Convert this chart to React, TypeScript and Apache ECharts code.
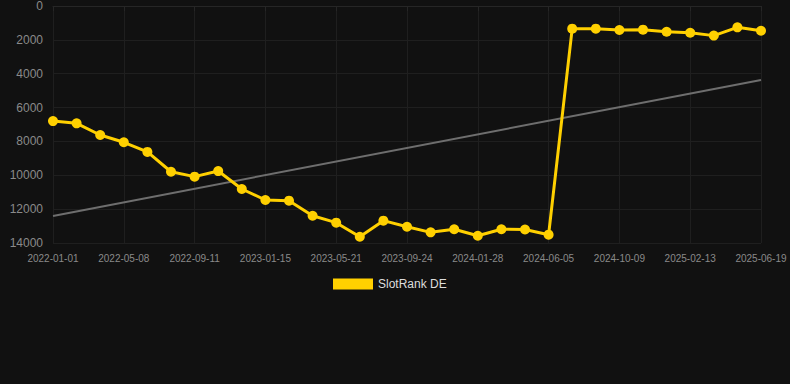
import React, { useEffect, useRef } from "react";
import * as echarts from "echarts";

const dates = [
  "2022-01-01", "2022-02-12", "2022-03-26", "2022-05-08", "2022-06-19", "2022-07-31",
  "2022-09-11", "2022-10-23", "2022-12-04", "2023-01-15", "2023-02-26", "2023-04-09",
  "2023-05-21", "2023-07-02", "2023-08-13", "2023-09-24", "2023-11-05", "2023-12-17",
  "2024-01-28", "2024-03-11", "2024-04-23", "2024-06-05", "2024-07-17", "2024-08-28",
  "2024-10-09", "2024-11-20", "2025-01-01", "2025-02-13", "2025-03-27", "2025-05-08",
  "2025-06-19",
];

const rankDE = [
  6800, 6930, 7620, 8050, 8620, 9790, 10080, 9750, 10810, 11460, 11500, 12390,
  12800, 13630, 12680, 13040, 13370, 13190, 13570, 13190, 13200, 13510, 1340, 1340,
  1420, 1400, 1520, 1580, 1750, 1260, 1460,
];

const trendStart = 12400;
const trendEnd = 4370;

const yTicks = { min: 0, max: 14000, interval: 2000 };

export default function App() {
  const ref = useRef<HTMLDivElement>(null);
  useEffect(() => {
    if (!ref.current) return;
    const chart = echarts.init(ref.current, undefined, { renderer: "svg" });
    chart.setOption({
      animation: false,
      backgroundColor: "#111111",
      grid: { left: 53, right: 29, top: 6, bottom: 141 },
      legend: {
        data: [{ name: "SlotRank DE", icon: "rect" }],
        top: 273,
        left: 328,
        itemWidth: 40,
        itemHeight: 11,
        itemGap: 10,
        textStyle: { color: "#dddddd", fontSize: 12, fontFamily: "Arial, Liberation Sans, sans-serif" },
      },
      xAxis: {
        type: "category",
        data: dates,
        boundaryGap: false,
        axisLine: { show: true, lineStyle: { color: "#262626" } },
        axisTick: { show: true, interval: 2, lineStyle: { color: "#262626" } },
        axisLabel: {
          interval: 2,
          color: "#8a8a8a",
          fontSize: 10,
          margin: 10,
          fontFamily: "Arial, Liberation Sans, sans-serif",
        },
        splitLine: { show: true, interval: 2, lineStyle: { color: "#1f1f1f" } },
      },
      yAxis: {
        type: "value",
        inverse: true,
        min: yTicks.min,
        max: yTicks.max,
        interval: yTicks.interval,
        axisLine: { show: false },
        axisTick: { show: false },
        axisLabel: {
          color: "#8a8a8a",
          fontSize: 12,
          margin: 10,
          formatter: (v: number) => String(v),
          fontFamily: "Arial, Liberation Sans, sans-serif",
        },
        splitLine: { show: true, lineStyle: { color: "#1f1f1f" } },
      },
      series: [
        {
          name: "SlotRank DE",
          type: "line",
          data: rankDE,
          color: "#FFD000",
          lineStyle: { color: "#FFD000", width: 3 },
          itemStyle: { color: "#FFD000" },
          symbol: "circle",
          symbolSize: 10,
          z: 3,
        },
        {
          name: "trend",
          type: "line",
          data: [
            [dates[0], trendStart],
            [dates[dates.length - 1], trendEnd],
          ],
          symbol: "none",
          lineStyle: { color: "#6e6e6e", width: 2 },
          itemStyle: { color: "#6e6e6e" },
          z: 2,
        },
      ],
    });
    return () => chart.dispose();
  }, []);
  return (
    <div
      ref={ref}
      style={{ position: "fixed", left: 0, top: 0, width: 790, height: 384 }}
    />
  );
}
